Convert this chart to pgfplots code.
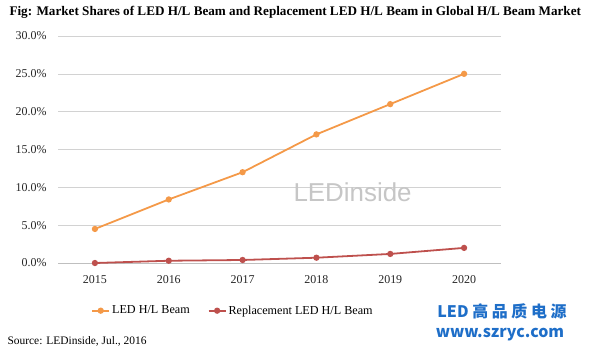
\documentclass[border=0pt]{standalone}
\usepackage{pgfplots}
\pgfplotsset{compat=1.18}
\usepackage{fontspec}
\setmainfont{Liberation Serif}
\newfontfamily\cjk{Noto Sans CJK SC}
\newfontfamily\sans{Liberation Sans}
\definecolor{ledorange}{RGB}{244,153,72}
\definecolor{ledred}{RGB}{190,80,77}
\definecolor{cnblue}{RGB}{30,110,200}
\begin{document}
\begin{tikzpicture}[x=1bp,y=1bp]
\useasboundingbox (0,0) rectangle (595,-352);
\begin{axis}[
  at={(58bp,-263bp)}, anchor=south west,
  scale only axis, width=443bp, height=227bp,
  xmin=-0.5, xmax=5.5, ymin=0, ymax=30,
  xtick={0,1,2,3,4,5},
  xticklabels={2015,2016,2017,2018,2019,2020},
  ytick={0,5,10,15,20,25,30},
  yticklabel={\pgfmathprintnumber[fixed,fixed zerofill,precision=1]{\tick}\%},
  /pgf/number format/assume math mode=true,
  ymajorgrids, grid style={gray!35, line width=0.6pt},
  axis line style={draw=none},
  axis x line*=bottom,
  x axis line style={draw=gray!50},
  major tick length=0pt,
  tick label style={font=\fontsize{12}{14}\selectfont, text=black!85},
  xticklabel style={yshift=-9bp},
  yticklabel style={xshift=-8bp},
  legend style={at={(0.395,-0.21)}, anchor=center, draw=none, legend columns=2,
    font=\fontsize{12.2}{14}\selectfont, /tikz/every even column/.append style={column sep=16bp}},
  legend cell align=left,
  clip=false,
]
\addplot[ledorange, line width=1.8pt, mark=*, mark size=2.2pt] coordinates {(0,4.5) (1,8.4) (2,12) (3,17) (4,21) (5,25)};
\addlegendentry{LED H/L Beam}
\addplot[ledred, line width=1.8pt, mark=*, mark size=2.2pt] coordinates {(0,0) (1,0.3) (2,0.4) (3,0.7) (4,1.2) (5,2.0)};
\addlegendentry{Replacement LED H/L Beam}
\end{axis}
\node[anchor=west, font=\bfseries\fontsize{13.2}{15}\selectfont] at (6,-12) {Fig: Market Shares of LED H/L Beam and Replacement LED H/L Beam in Global H/L Beam Market};
\node[anchor=west, font=\fontsize{11.5}{13}\selectfont] at (4,-341) {Source: LEDinside, Jul., 2016};
\node[anchor=west, text=gray!45, font=\sans\fontsize{26}{30}\selectfont] at (290,-192) {LEDinside};
\node[anchor=center, text=cnblue, font=\cjk\bfseries\fontsize{16}{18}\selectfont] at (502,-311) {LED 高 品 质 电 源};
\node[anchor=center, text=cnblue, font=\cjk\bfseries\fontsize{16}{18}\selectfont] at (500,-335) {www.szryc.com};
\end{tikzpicture}
\end{document}
